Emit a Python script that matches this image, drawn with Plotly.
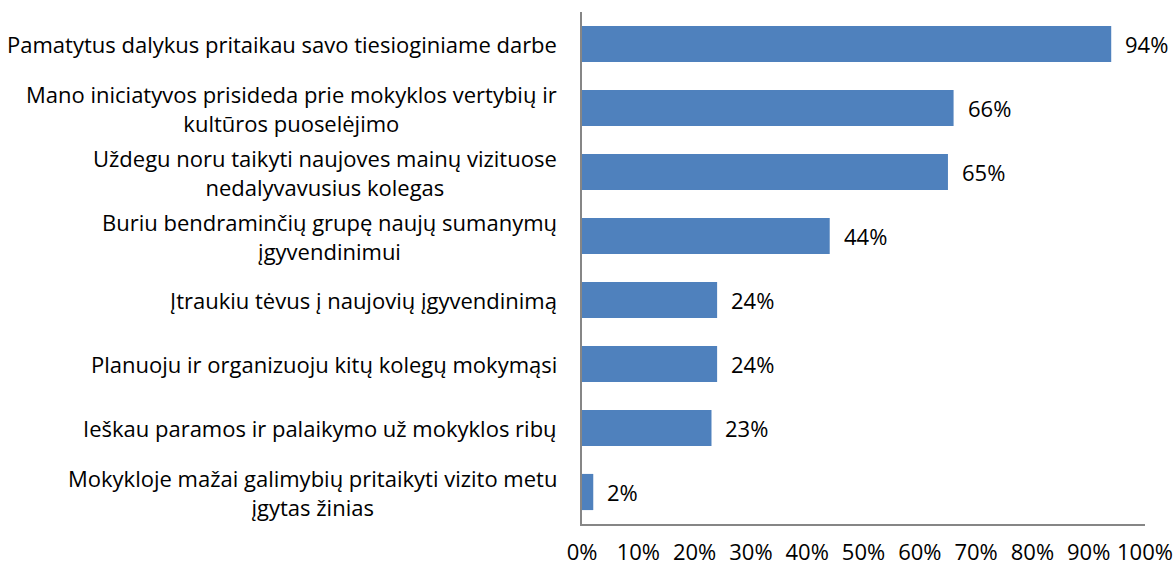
import plotly.graph_objects as go

categories = [
    "Pamatytus dalykus pritaikau savo tiesioginiame darbe",
    "Mano iniciatyvos prisideda prie mokyklos vertybių ir<br>kultūros puoselėjimo",
    "Uždegu noru taikyti naujoves mainų vizituose<br>nedalyvavusius kolegas",
    "Buriu bendraminčių grupę naujų sumanymų<br>įgyvendinimui",
    "Įtraukiu tėvus į naujovių įgyvendinimą",
    "Planuoju ir organizuoju kitų kolegų mokymąsi",
    "Ieškau paramos ir palaikymo už mokyklos ribų",
    "Mokykloje mažai galimybių pritaikyti vizito metu<br>įgytas žinias",
]
values = [94, 66, 65, 44, 24, 24, 23, 2]
value_labels = ["94%", "66%", "65%", "44%", "24%", "24%", "23%", "2%"]
tick_vals = [0, 10, 20, 30, 40, 50, 60, 70, 80, 90, 100]
tick_text = ["0%", "10%", "20%", "30%", "40%", "50%", "60%", "70%", "80%", "90%", "100%"]

FONT = "Open Sans"
FS = 22
ids = list(range(len(categories)))

fig = go.Figure()
fig.add_trace(go.Bar(
    x=values, y=ids, orientation="h",
    marker=dict(color="#4F81BD", line=dict(width=0)),
    width=0.565,
    hoverinfo="x",
))

annotations = []
for i, (cat, v, lab) in enumerate(zip(categories, values, value_labels)):
    annotations.append(dict(
        x=v, y=i, xref="x", yref="y", text=lab, showarrow=False,
        xanchor="left", xshift=12, font=dict(family=FONT, size=FS, color="#000000"),
    ))
    annotations.append(dict(
        x=-0.04, y=i, xref="paper", yref="y", text=cat, showarrow=False,
        xanchor="right", align="center", font=dict(family=FONT, size=FS, color="#000000"),
    ))

fig.update_layout(
    width=1174, height=567,
    margin=dict(l=582, r=29, t=12, b=43),
    paper_bgcolor="white", plot_bgcolor="white",
    showlegend=False,
    annotations=annotations,
    xaxis=dict(
        range=[0, 100], tickvals=tick_vals, ticktext=tick_text,
        showgrid=False, zeroline=False, automargin=False,
        showline=True, linecolor="#868686", linewidth=2,
        ticks="", tickfont=dict(family=FONT, size=FS, color="#000000"),
        ticklabelstandoff=8,
    ),
    yaxis=dict(
        range=[len(categories) - 0.5, -0.5], automargin=False,
        showticklabels=False, showgrid=False, zeroline=False,
        showline=True, linecolor="#868686", linewidth=2, ticks="",
    ),
)

fig.write_html(
    "out.html",
    config={"displayModeBar": False},
    post_script="document.body.style.margin='0';",
)
